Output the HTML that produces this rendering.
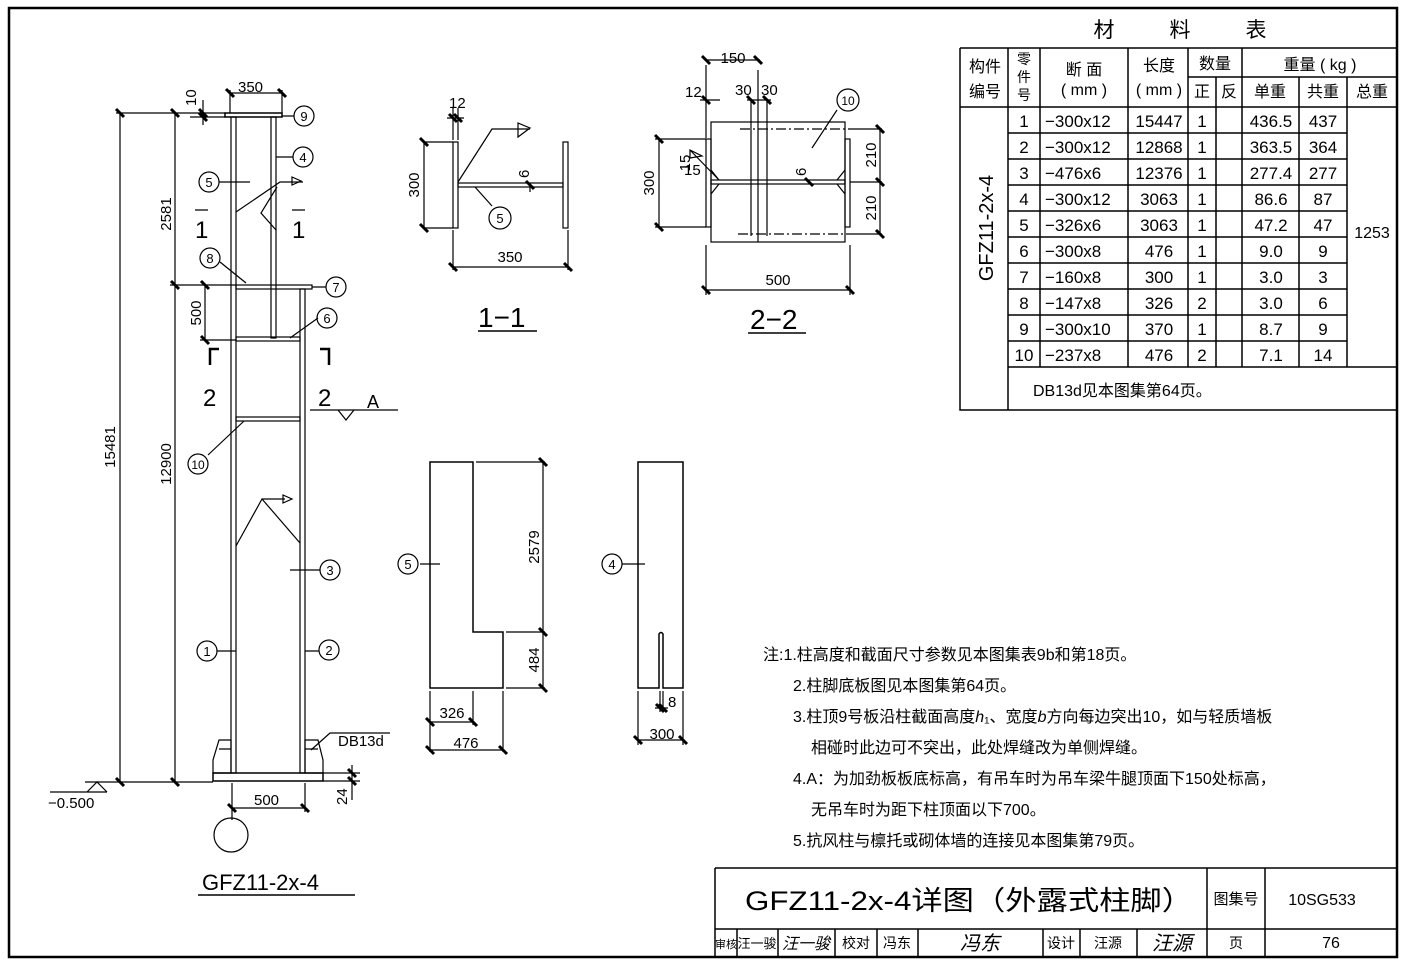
<!DOCTYPE html>
<html><head><meta charset="utf-8"><style>
body{margin:0;background:#fff}
svg{display:block}
text{font-family:"Liberation Sans","Noto Sans CJK SC",sans-serif;fill:#000}
.c{font-family:"Liberation Sans","Noto Sans CJK SC","WenQuanYi Zen Hei",sans-serif}
</style></head><body>
<svg width="1405" height="966" viewBox="0 0 1405 966" xmlns="http://www.w3.org/2000/svg">
<rect x="0" y="0" width="1405" height="966" fill="#fff"/>
<rect x="9" y="8" width="1388" height="949" fill="none" stroke="#000" stroke-width="2.5"/>
<g stroke="#000" fill="none" stroke-width="1.2">
<!-- main column -->
<rect x="225" y="113" width="57" height="4" stroke-width="1.5"/>
<rect x="231" y="117" width="5" height="656"/>
<rect x="271" y="117" width="5" height="221"/>
<rect x="236" y="285" width="76" height="4"/>
<rect x="300" y="289" width="5" height="484"/>
<rect x="236" y="337" width="64" height="4"/>
<rect x="236" y="417" width="64" height="4"/>
<rect x="213" y="773" width="110" height="8" stroke-width="1.5"/>
<path d="M219 740 H231 V773 H213 V760 Z M305 740 H318 L323 760 V773 H305 Z"/>
<path d="M219 749 H231 M305 749 H318"/>
<!-- dims -->
<path d="M120 113 V782 M175 113 V782 M116 113 H225 M170 285 H236 M200 340 H236 M205 285 V340 M85 782 H213 M323 773 H360 M323 781 H360 M352 765 V800 M230 90 V113 M282 90 V113 M230 93 H282 M190 113 H225 M190 117 H225 M203 100 V125"/>
<path d="M232 783 V820 M305 783 V812 M232 808 H305"/>
<path d="M50 792 H107 M87 792 L97 782 L107 792"/>
<!-- section marks -->
<path d="M195 210 H208 M292 210 H305"/>
<path d="M219 349 H210 V365 M320 349 H329 V365" stroke-width="2.5"/>
<path d="M310 410 H398 M338 410 L346 420 L354 410"/>
<!-- leaders -->
<path d="M282 116 H294 M276 157 H293 M219 182 H250 M220 262 L246 283 M312 287 H326 M318 318 L290 338 M208 455 L244 421"/>
<path d="M236 212 L280 182 H303 M276 230 L261 213 L277 187"/>
<path d="M236 546 L262 499 L300 543 M262 499 H285"/>
<path d="M292 177 V185 L301 181 Z M283 495 V503 L292 499 Z"/>
<path d="M290 570 H320 M236 651 H217 M305 651 H319"/>
<path d="M311 750 L330 733 H390"/>
<circle cx="304" cy="116" r="10"/><circle cx="303" cy="157" r="10"/>
<circle cx="209" cy="182" r="10"/><circle cx="210" cy="258" r="10"/>
<circle cx="336" cy="287" r="10"/><circle cx="327" cy="318" r="10"/>
<circle cx="198" cy="464" r="10"/><circle cx="330" cy="570" r="10"/>
<circle cx="207" cy="651" r="10"/><circle cx="329" cy="650" r="10"/>
<circle cx="231" cy="835" r="17"/>
<path d="M198 895 H355" stroke-width="1.5"/>
<!-- 1-1 -->
<rect x="453" y="142" width="5" height="86"/>
<rect x="563" y="142" width="5" height="86"/>
<rect x="458" y="183" width="105" height="4"/>
<path d="M425 142 H453 M425 228 H453 M424 142 V228 M453 230 V270 M568 230 V270 M453 267 H568 M453 108 V140 M458 108 V140 M447 118 H464 M458 182 L492 129 H530 M518 123 V137 L530 128 Z M475 187 L492 206 M530 183 V192"/>
<circle cx="500" cy="218" r="11"/>
<path d="M478 331 H537" stroke-width="1.5"/>
<!-- 2-2 -->
<rect x="711" y="122" width="134" height="120"/>
<rect x="706" y="139" width="5" height="88"/>
<rect x="845" y="139" width="5" height="88"/>
<rect x="711" y="180" width="134" height="4"/>
<path d="M751 100 V236 M767 100 V236 M758 70 V242 M706 65 V138 M706 60 H760 M700 100 H720 M747 100 H771"/>
<path d="M740 129 H850 M738 234 H850" stroke-dasharray="10,3,2,3"/>
<path d="M655 139 H706 M655 227 H706 M659 139 V227 M850 129 H882 M850 182 H882 M850 234 H882 M880 129 V234 M706 245 V295 M850 245 V295 M706 290 H850 M690 150 L719 180 M719 180 L711 170 M711 194 L719 184 M845 170 L837 180 M845 194 L837 184 M812 148 L837 110"/>
<path d="M690 150 L702 156 L690 158 Z"/>
<circle cx="848" cy="100" r="11"/>
<path d="M748 333 H806" stroke-width="1.5"/>
<!-- part 5 -->
<path d="M430 462 H473 V632 H503 V688 H430 Z" stroke-width="1.5"/>
<path d="M476 462 H545 M506 632 H545 M506 688 H545 M543 462 V688 M430 691 V752 M473 691 V725 M503 691 V752 M430 722 H473 M430 750 H503 M420 564 H440"/>
<circle cx="408" cy="564" r="10"/>
<!-- part 4 -->
<path d="M638 462 H683 V688 H663 V634 Q661 631 659 634 V688 H638 Z" stroke-width="1.5"/>
<path d="M638 691 V745 M683 691 V745 M638 740 H683 M660 691 V712 M663 691 V712 M655 708 H668 M622 564 H645"/>
<circle cx="612" cy="564" r="10"/>
</g>
<!-- ticks -->
<g stroke="#000" stroke-width="3">
<path d="M116 109 l8 8 M171 109 l8 8 M171 281 l8 8 M201 281 l8 8 M201 336 l8 8 M116 778 l8 8 M171 778 l8 8 M226 89 l8 8 M278 89 l8 8 M199 109 l8 8 M199 113 l8 8 M228 804 l8 8 M301 804 l8 8 M348 769 l8 8 M348 777 l8 8"/>
<path d="M420 138 l8 8 M420 224 l8 8 M449 263 l8 8 M564 263 l8 8 M449 114 l8 8 M454 114 l8 8 M526 181 l8 8"/>
<path d="M702 56 l8 8 M754 56 l8 8 M702 96 l8 8 M747 96 l8 8 M763 96 l8 8 M655 135 l8 8 M655 223 l8 8 M876 125 l8 8 M876 178 l8 8 M876 230 l8 8 M702 286 l8 8 M846 286 l8 8 M805 178 l8 8"/>
<path d="M539 458 l8 8 M539 628 l8 8 M539 684 l8 8 M426 718 l8 8 M469 718 l8 8 M426 746 l8 8 M499 746 l8 8 M634 736 l8 8 M679 736 l8 8 M656 704 l8 8 M659 704 l8 8"/>
</g>
<!-- main text -->
<g font-size="15">
<text x="238" y="92">350</text>
<text transform="translate(196,106) rotate(-90)">10</text>
<text transform="translate(171,214) rotate(-90)" text-anchor="middle">2581</text>
<text transform="translate(201,313) rotate(-90)" text-anchor="middle">500</text>
<text transform="translate(115,447) rotate(-90)" text-anchor="middle">15481</text>
<text transform="translate(171,464) rotate(-90)" text-anchor="middle">12900</text>
<text transform="translate(347,805) rotate(-90)">24</text>
<text x="254" y="805">500</text>
<text x="48" y="808">−0.500</text>
<text x="338" y="746">DB13d</text>
<text x="367" y="408" font-size="18">A</text>
</g>
<g font-size="24">
<text x="195" y="238">1</text><text x="292" y="238">1</text>
<text x="203" y="406">2</text><text x="318" y="406">2</text>
</g>
<g font-size="13" text-anchor="middle">
<text x="304" y="121">9</text><text x="303" y="162">4</text><text x="209" y="187">5</text>
<text x="210" y="263">8</text><text x="336" y="292">7</text><text x="327" y="323">6</text>
<text x="198" y="469" font-size="12">10</text><text x="330" y="575">3</text>
<text x="207" y="656">1</text><text x="329" y="655">2</text>
<text x="500" y="223">5</text><text x="848" y="105" font-size="12">10</text>
<text x="408" y="569">5</text><text x="612" y="569">4</text>
</g>
<text x="202" y="890" font-size="22">GFZ11-2x-4</text>
<g font-size="15">
<text x="449" y="108">12</text>
<text transform="translate(419,185) rotate(-90)" text-anchor="middle">300</text>
<text x="510" y="262" text-anchor="middle">350</text>
<text transform="translate(529,178) rotate(-90)">6</text>
<text x="733" y="63" text-anchor="middle">150</text>
<text x="685" y="97">12</text><text x="735" y="95">30</text><text x="761" y="95">30</text>
<text transform="translate(654,183) rotate(-90)" text-anchor="middle">300</text>
<text transform="translate(690,163) rotate(-90)" text-anchor="middle">15</text>
<text x="684" y="175">15</text>
<text transform="translate(806,176) rotate(-90)">6</text>
<text transform="translate(876,155) rotate(-90)" text-anchor="middle">210</text>
<text transform="translate(876,208) rotate(-90)" text-anchor="middle">210</text>
<text x="778" y="285" text-anchor="middle">500</text>
<text transform="translate(539,547) rotate(-90)" text-anchor="middle">2579</text>
<text transform="translate(539,660) rotate(-90)" text-anchor="middle">484</text>
<text x="452" y="718" text-anchor="middle">326</text>
<text x="466" y="748" text-anchor="middle">476</text>
<text x="668" y="707">8</text>
<text x="662" y="739" text-anchor="middle">300</text>
</g>
<g font-size="28"><text x="478" y="327">1−1</text><text x="750" y="329">2−2</text></g>
<!-- notes -->
<g font-size="16" class="c">
<text x="763" y="660">注:1.柱高度和截面尺寸参数见本图集表9b和第18页。</text>
<text x="793" y="691">2.柱脚底板图见本图集第64页。</text>
<text x="793" y="722">3.柱顶9号板沿柱截面高度<tspan font-style="italic">h</tspan>₁、宽度<tspan font-style="italic">b</tspan>方向每边突出10，如与轻质墙板</text>
<text x="811" y="753">相碰时此边可不突出，此处焊缝改为单侧焊缝。</text>
<text x="793" y="784">4.A：为加劲板板底标高，有吊车时为吊车梁牛腿顶面下150处标高，</text>
<text x="811" y="815">无吊车时为距下柱顶面以下700。</text>
<text x="793" y="846">5.抗风柱与檩托或砌体墙的连接见本图集第79页。</text>
</g>
<!-- table -->
<g stroke="#000" fill="none" stroke-width="1.5">
<path d="M960 48 H1397 M960 48 V410 H1397 M1008 48 V410 M1040 48 V367 M1128 48 V367 M1188 48 V367 M1242 48 V367 M1299 77 V367 M1347 77 V367 M1188 77 H1397 M1216 77 V367 M960 107 H1397 M1008 367 H1397 M1008 133 H1347 M1008 159 H1347 M1008 185 H1347 M1008 211 H1347 M1008 237 H1347 M1008 263 H1347 M1008 289 H1347 M1008 315 H1347 M1008 341 H1347"/>
</g>
<g class="c" font-size="16" text-anchor="middle">
<text x="1104" y="37" font-size="21">材</text><text x="1180" y="37" font-size="21">料</text><text x="1256" y="37" font-size="21">表</text>
<text x="985" y="72">构件</text><text x="985" y="97">编号</text>
<text x="1024" y="64" font-size="14">零</text><text x="1024" y="82" font-size="14">件</text><text x="1024" y="100" font-size="14">号</text>
<text x="1084" y="75">断 面</text><text x="1084" y="95">( mm )</text>
<text x="1159" y="71">长度</text><text x="1159" y="95">( mm )</text>
<text x="1215" y="69">数量</text><text x="1202" y="97">正</text><text x="1229" y="97">反</text>
<text x="1320" y="70">重量 ( kg )</text>
<text x="1270" y="97">单重</text><text x="1323" y="97">共重</text><text x="1372" y="97">总重</text>
</g>
<text x="1033" y="396" font-size="16" class="c">DB13d见本图集第64页。</text>
<text transform="translate(993,228) rotate(-90)" text-anchor="middle" font-size="20">GFZ11-2x-4</text>
<text x="1372" y="238" text-anchor="middle" font-size="16">1253</text>
<g font-size="17">
<g text-anchor="middle">
<text x="1024" y="127">1</text><text x="1024" y="153">2</text><text x="1024" y="179">3</text><text x="1024" y="205">4</text><text x="1024" y="231">5</text><text x="1024" y="257">6</text><text x="1024" y="283">7</text><text x="1024" y="309">8</text><text x="1024" y="335">9</text><text x="1024" y="361">10</text>
<text x="1159" y="127">15447</text><text x="1159" y="153">12868</text><text x="1159" y="179">12376</text><text x="1159" y="205">3063</text><text x="1159" y="231">3063</text><text x="1159" y="257">476</text><text x="1159" y="283">300</text><text x="1159" y="309">326</text><text x="1159" y="335">370</text><text x="1159" y="361">476</text>
<text x="1202" y="127">1</text><text x="1202" y="153">1</text><text x="1202" y="179">1</text><text x="1202" y="205">1</text><text x="1202" y="231">1</text><text x="1202" y="257">1</text><text x="1202" y="283">1</text><text x="1202" y="309">2</text><text x="1202" y="335">1</text><text x="1202" y="361">2</text>
<text x="1271" y="127">436.5</text><text x="1271" y="153">363.5</text><text x="1271" y="179">277.4</text><text x="1271" y="205">86.6</text><text x="1271" y="231">47.2</text><text x="1271" y="257">9.0</text><text x="1271" y="283">3.0</text><text x="1271" y="309">3.0</text><text x="1271" y="335">8.7</text><text x="1271" y="361">7.1</text>
<text x="1323" y="127">437</text><text x="1323" y="153">364</text><text x="1323" y="179">277</text><text x="1323" y="205">87</text><text x="1323" y="231">47</text><text x="1323" y="257">9</text><text x="1323" y="283">3</text><text x="1323" y="309">6</text><text x="1323" y="335">9</text><text x="1323" y="361">14</text>
</g>
<text x="1045" y="127">−300x12</text><text x="1045" y="153">−300x12</text><text x="1045" y="179">−476x6</text><text x="1045" y="205">−300x12</text><text x="1045" y="231">−326x6</text><text x="1045" y="257">−300x8</text><text x="1045" y="283">−160x8</text><text x="1045" y="309">−147x8</text><text x="1045" y="335">−300x10</text><text x="1045" y="361">−237x8</text>
</g>
<!-- title block -->
<g stroke="#000" fill="none" stroke-width="1.5">
<path d="M715 868 H1397 M715 868 V957 M715 929 H1397 M1207 868 V957 M1265 868 V957 M737 929 V957 M778 929 V957 M835 929 V957 M877 929 V957 M918 929 V957 M1043 929 V957 M1080 929 V957 M1137 929 V957"/>
</g>
<text x="745" y="910" font-size="27" class="c" textLength="448" lengthAdjust="spacingAndGlyphs">GFZ11-2x-4详图（外露式柱脚）</text>
<g class="c" font-size="14" text-anchor="middle">
<text x="1236" y="904" font-size="15">图集号</text><text x="1322" y="905" font-size="16" font-family="Liberation Serif">10SG533</text>
<text x="726" y="948" font-size="11">审核</text><text x="757" y="948" font-size="13">汪一骏</text><text x="806" y="949" font-style="italic" font-size="16">汪一骏</text>
<text x="856" y="948">校对</text><text x="897" y="948">冯东</text><text x="980" y="950" font-style="italic" font-size="20">冯东</text>
<text x="1061" y="948">设计</text><text x="1108" y="948">汪源</text><text x="1172" y="950" font-style="italic" font-size="20">汪源</text>
<text x="1236" y="948">页</text><text x="1331" y="948" font-size="16">76</text>
</g>
</svg>
</body></html>
